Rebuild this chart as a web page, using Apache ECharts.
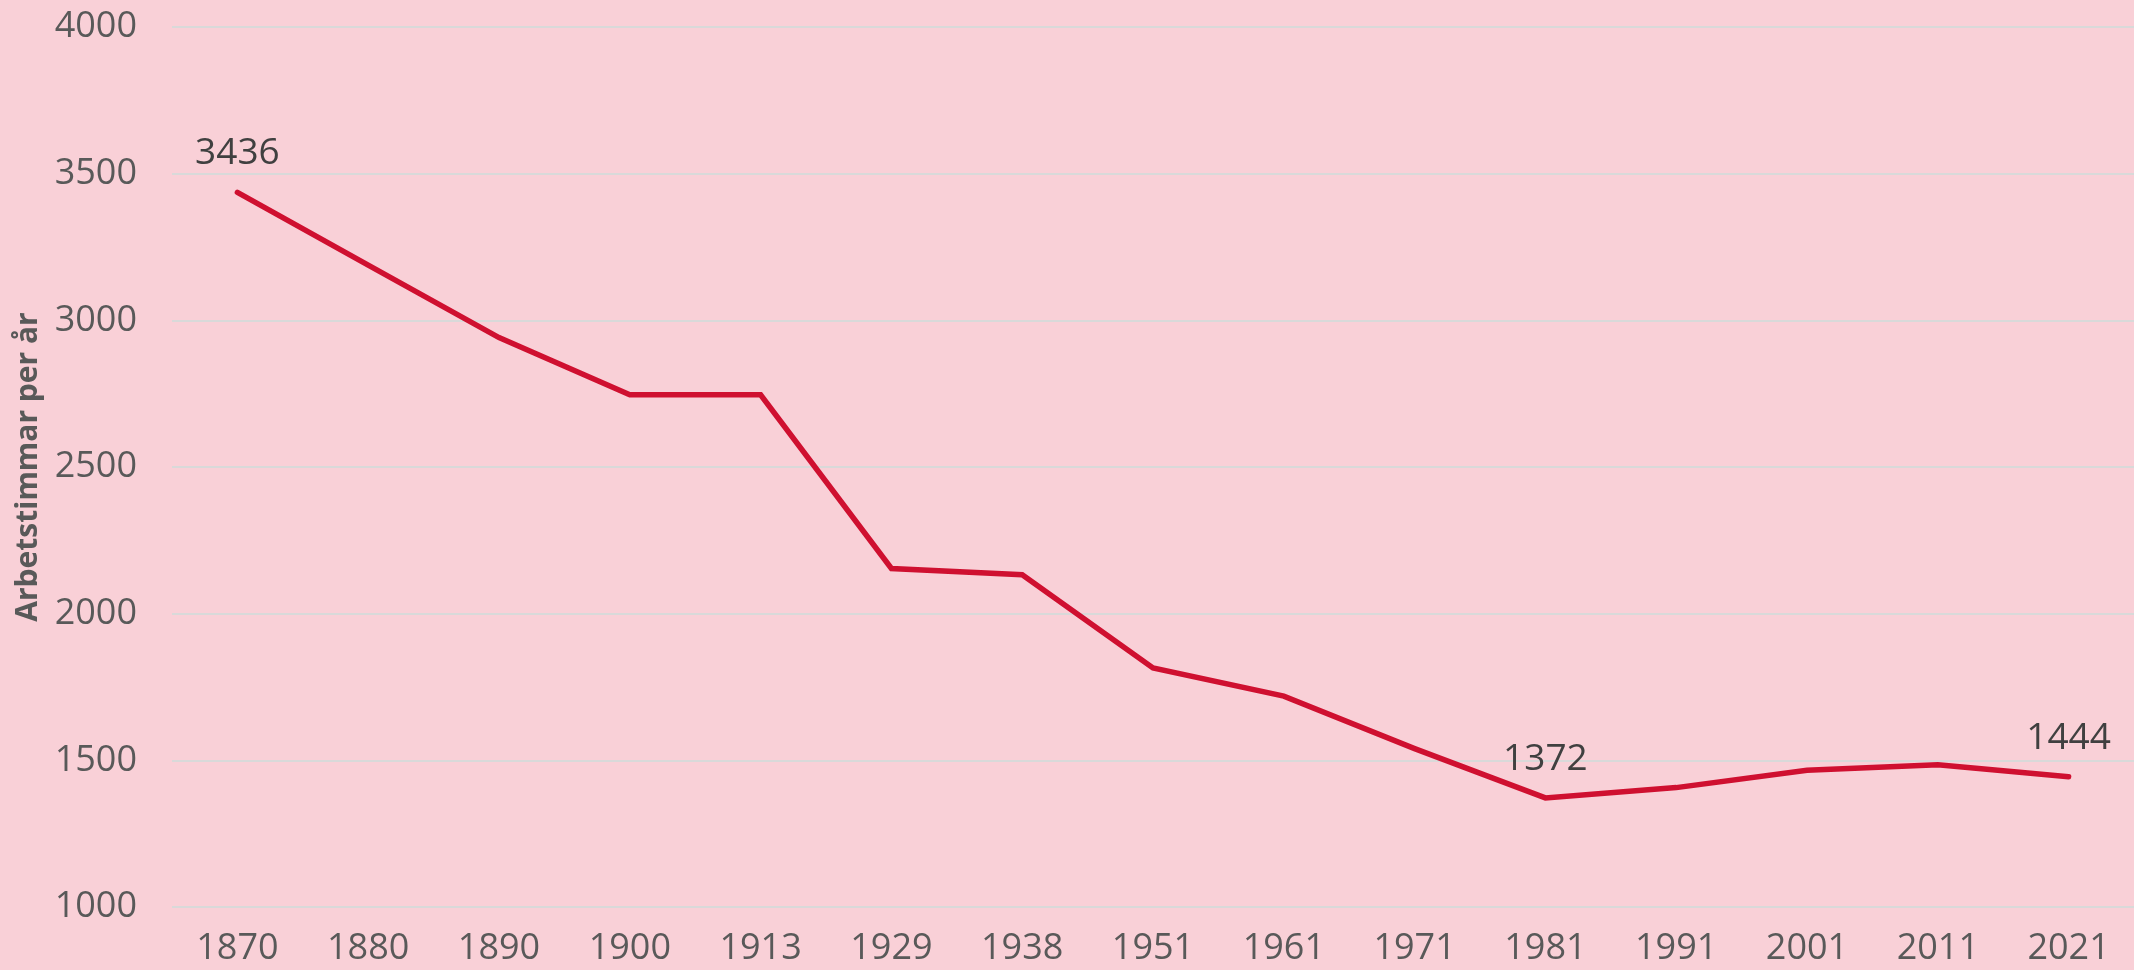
<!DOCTYPE html>
<html>
<head>
<meta charset="utf-8">
<script src="https://cdn.jsdelivr.net/npm/echarts@6/dist/echarts.min.js"></script>
<style>
  html, body { margin: 0; padding: 0; background: #F9D0D7; }
  #chart { width: 2134px; height: 970px; }
</style>
</head>
<body>
<div id="chart"></div>
<script>
const years = ['1870','1880','1890','1900','1913','1929','1938','1951','1961','1971','1981','1991','2001','2011','2021'];
const hours = [3436, 3188, 2941, 2746, 2746, 2154, 2133, 1815, 1719, 1540, 1372, 1407, 1466, 1485, 1444];
const labeledYears = ['1870', '1981', '2021'];
const yTicks = { min: 1000, max: 4000, interval: 500 };
const yAxisTitle = 'Arbetstimmar per år';

const FONT = '"Open Sans", "Liberation Sans", sans-serif';

const seriesData = hours.map((v, i) => ({
  value: v,
  label: { show: labeledYears.includes(years[i]) }
}));

const chart = echarts.init(document.getElementById('chart'), null, { renderer: 'canvas' });
chart.setOption({
  backgroundColor: '#F9D0D7',
  animation: false,
  grid: { left: 172, right: 0, top: 27, bottom: 63, containLabel: false },
  xAxis: {
    type: 'category',
    data: years,
    boundaryGap: true,
    axisLine: { show: false },
    axisTick: { show: false },
    axisLabel: { color: '#595959', fontSize: 36, fontFamily: FONT, margin: 24, interval: 0 }
  },
  yAxis: {
    type: 'value',
    min: yTicks.min,
    max: yTicks.max,
    interval: yTicks.interval,
    name: yAxisTitle,
    nameLocation: 'middle',
    nameGap: 112,
    nameTextStyle: { color: '#595959', fontSize: 30, fontWeight: 'bold', fontFamily: FONT },
    axisLine: { show: false },
    axisTick: { show: false },
    axisLabel: { color: '#595959', fontSize: 36, fontFamily: FONT, margin: 35, formatter: v => String(v) },
    splitLine: { lineStyle: { color: '#D9D9D9', width: 2 } }
  },
  series: [{
    type: 'line',
    data: seriesData,
    symbol: 'circle',
    symbolSize: 0,
    showSymbol: true,
    lineStyle: { color: '#CF1030', width: 5.5, cap: 'round', join: 'miter' },
    itemStyle: { color: '#CF1030' },
    label: {
      show: false,
      position: 'top',
      distance: 20,
      color: '#404040',
      fontSize: 37,
      fontFamily: FONT
    }
  }]
});
</script>
</body>
</html>
